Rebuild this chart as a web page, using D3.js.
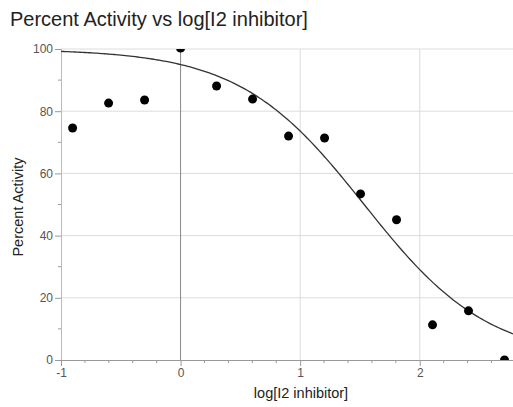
<!DOCTYPE html>
<html>
<head>
<meta charset="utf-8">
<script src="https://cdn.jsdelivr.net/npm/d3@7/dist/d3.min.js"></script>
<style>
  body { margin: 0; background: #fff; }
  text { font-family: "Liberation Sans", Arial, sans-serif; }
</style>
</head>
<body>
<svg id="chart" width="513" height="407"></svg>
<script>
    // log concentrations (2-fold dilution) and measured activity
    var logConc = [-0.903, -0.602, -0.301, 0, 0.301, 0.602, 0.903, 1.204, 1.505, 1.806, 2.107, 2.408, 2.709];
    var activity = [74.6, 82.6, 83.6, 100.3, 88.1, 83.9, 72.0, 71.4, 53.4, 45.1, 11.3, 15.8, 0];
    var xTicks = [-1, 0, 1, 2];
    var yTicks = [0, 20, 40, 60, 80, 100];

    // fitted sigmoid: top, bottom, logIC50, hill slope
    var fitTop = 100, fitBottom = 0, fitLogIC50 = 1.535, fitHill = 0.833;

    var svg = d3.select("#chart");
    var pLeft = 61, pRight = 513, pTop = 49, pBottom = 360;

    var xScale = d3.scaleLinear().domain([-1, 2.78]).range([pLeft, pRight]);
    var yScale = d3.scaleLinear().domain([0, 100]).range([pBottom, pTop]);

    // Title
    svg.append("text")
       .attr("x", 10)
       .attr("y", 26)
       .attr("font-size", "20px")
       .attr("fill", "#222")
       .text("Percent Activity vs log[I2 inhibitor]");

    // clip for plot area
    svg.append("clipPath")
       .attr("id", "plot-clip")
       .append("rect")
       .attr("x", pLeft)
       .attr("y", pTop)
       .attr("width", pRight - pLeft)
       .attr("height", pBottom - pTop);

    // grid lines
    var grid = svg.append("g");
    grid.selectAll(".hgrid")
        .data(yTicks.filter(function(d) { return d > 0; }))
        .enter().append("line")
        .attr("x1", pLeft).attr("x2", pRight)
        .attr("y1", function(d) { return yScale(d); })
        .attr("y2", function(d) { return yScale(d); })
        .attr("stroke", "#dcdcdc")
        .attr("stroke-width", 1);

    grid.selectAll(".vgrid")
        .data(xTicks.filter(function(d) { return d > -1; }))
        .enter().append("line")
        .attr("x1", function(d) { return xScale(d); })
        .attr("x2", function(d) { return xScale(d); })
        .attr("y1", pTop).attr("y2", pBottom)
        .attr("stroke", function(d) { return d == 0 ? "#888" : "#dcdcdc"; })
        .attr("stroke-width", 1);

    // y axis
    var yAxis = d3.axisLeft(yScale)
        .tickValues(yTicks)
        .tickSize(6)
        .tickPadding(2);
    var gy = svg.append("g")
        .attr("transform", "translate(" + pLeft + ",0)")
        .call(yAxis);
    gy.select(".domain").attr("stroke", "#bbb");
    gy.selectAll(".tick line").attr("stroke", "#999");
    gy.selectAll("text").attr("font-size", "12px").attr("fill", "#555")
      .attr("font-family", "Liberation Sans, Arial, sans-serif");

    // y minor ticks
    svg.append("g").selectAll("line")
       .data(d3.range(10, 100, 20))
       .enter().append("line")
       .attr("x1", pLeft - 3).attr("x2", pLeft)
       .attr("y1", function(d) { return yScale(d); })
       .attr("y2", function(d) { return yScale(d); })
       .attr("stroke", "#999");

    // x axis
    var xAxis = d3.axisBottom(xScale)
        .tickValues(xTicks)
        .tickSize(6)
        .tickPadding(2)
        .tickFormat(function(d) { return String(d); });
    var gx = svg.append("g")
        .attr("transform", "translate(0," + pBottom + ")")
        .call(xAxis);
    gx.select(".domain").attr("stroke", "#999");
    gx.selectAll(".tick line").attr("stroke", "#999");
    gx.selectAll("text").attr("font-size", "12px").attr("fill", "#555")
      .attr("font-family", "Liberation Sans, Arial, sans-serif");

    // x minor ticks
    svg.append("g").selectAll("line")
       .data(d3.range(-0.8, 2.8, 0.2).filter(function(d) { return Math.abs(d - Math.round(d)) > 0.01; }))
       .enter().append("line")
       .attr("x1", function(d) { return xScale(d); })
       .attr("x2", function(d) { return xScale(d); })
       .attr("y1", pBottom).attr("y2", pBottom + 3)
       .attr("stroke", "#999");

    // axis labels
    svg.append("text")
       .attr("x", 301)
       .attr("y", 398)
       .attr("text-anchor", "middle")
       .attr("font-size", "14.5px")
       .attr("fill", "#222")
       .text("log[I2 inhibitor]");

    svg.append("text")
       .attr("transform", "rotate(-90)")
       .attr("x", -207)
       .attr("y", 23)
       .attr("text-anchor", "middle")
       .attr("font-size", "14.5px")
       .attr("fill", "#222")
       .text("Percent Activity");

    var plot = svg.append("g").attr("clip-path", "url(#plot-clip)");

    // fitted curve
    var fit = function(x) {
        return fitBottom + (fitTop - fitBottom) / (1 + Math.pow(10, (x - fitLogIC50) * fitHill));
    };
    var curveX = d3.range(-1, 2.8, 0.02);
    var line = d3.line()
        .x(function(d) { return xScale(d); })
        .y(function(d) { return yScale(fit(d)); })
        .curve(d3.curveMonotoneX);
    plot.append("path")
        .datum(curveX)
        .attr("d", line)
        .attr("fill", "none")
        .attr("stroke", "#333")
        .attr("stroke-width", 1.3);

    // data points
    plot.selectAll("circle")
        .data(logConc)
        .enter().append("circle")
        .attr("cx", function(d) { return xScale(d); })
        .attr("cy", function(d, i) { return yScale(activity[i]); })
        .attr("r", 4.5)
        .attr("fill", "#000");
</script>
</body>
</html>
